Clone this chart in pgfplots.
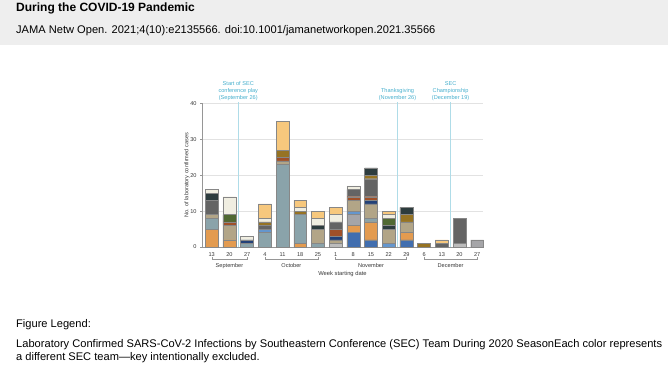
\documentclass[border=0pt]{standalone}
\usepackage{pgfplots}
\pgfplotsset{compat=1.18}
\usepackage{pgfplotstable}
\usepackage{fontspec}
\setmainfont{Liberation Sans}

\definecolor{cBlue}{RGB}{65,110,175}
\definecolor{cLightGrey}{RGB}{188,188,188}
\definecolor{cOrange}{RGB}{227,155,80}
\definecolor{cMedGrey}{RGB}{165,165,168}
\definecolor{cBlueGrey}{RGB}{138,163,170}
\definecolor{cLightBlue}{RGB}{100,150,205}
\definecolor{cTan}{RGB}{178,165,135}
\definecolor{cNavy}{RGB}{35,65,120}
\definecolor{cRust}{RGB}{160,80,40}
\definecolor{cDarkGrey}{RGB}{100,100,100}
\definecolor{cOlive}{RGB}{150,115,35}
\definecolor{cDarkSlate}{RGB}{45,60,62}
\definecolor{cGreen}{RGB}{80,105,50}
\definecolor{cCream}{RGB}{240,238,225}
\definecolor{cLightOrange}{RGB}{247,200,125}
\definecolor{headgrey}{RGB}{238,238,238}
\definecolor{axisgrey}{RGB}{150,150,150}
\definecolor{gridgrey}{RGB}{226,226,226}
\definecolor{textgrey}{RGB}{55,55,55}
\definecolor{outline}{RGB}{135,135,135}
\definecolor{eventline}{RGB}{175,220,232}
\definecolor{eventtext}{RGB}{70,175,205}

\pgfplotstableread{
x  bl lg or mg bg lb tn nv ru dg ol ds gr cr lo
0  0  0  5  0  3  0  1  0  0  4  0  2  0  1  0
1  0  0  2  0  0  0  4  0  1  0  0  0  2  5  0
2  0  0  0  0  1  0  0  1  0  0  0  0  0  1  0
3  0  0  0  0  4  1  0  0  0  1  1  0  0  1  4
4  0  0  0  0  23 0  1  0  1  0  2  0  0  0  8
5  0  0  1  0  8  0  0  0  0  0  1  0  0  1  2
6  0  0  0  0  1  0  4  0  0  0  0  1  0  2  2
7  0  1  0  0  0  0  1  1  2  2  0  0  0  2  2
8  4  0  2  3  0  1  3  0  1  2  0  0  0  1  0
9  2  0  5  0  1  0  4  1  1  5  1  2  0  0  0
10 0  0  0  0  0  1  4  0  0  0  0  1  2  1  1
11 2  0  2  0  0  0  3  0  0  0  2  2  0  0  0
12 0  0  0  0  0  0  0  0  0  0  1  0  0  0  0
13 0  0  0  0  0  0  0  0  0  1  0  0  0  0  1
14 0  1  0  0  0  0  0  0  0  7  0  0  0  0  0
15 0  0  0  2  0  0  0  0  0  0  0  0  0  0  0
}\teamdata

\begin{document}
\begin{tikzpicture}
\useasboundingbox (0,0) rectangle (668bp,-376bp);
\fill[headgrey] (0,0) rectangle (668bp,-45bp);
\node[anchor=base west, inner sep=0, font=\fontsize{12bp}{14bp}\selectfont\bfseries] at (16bp,-11bp) {During the COVID-19 Pandemic};
\node[anchor=base west, inner sep=0, font=\fontsize{11.1bp}{13bp}\selectfont] at (16bp,-33bp) {JAMA Netw Open. 2021;4(10):e2135566. doi:10.1001/jamanetworkopen.2021.35566};
\node[anchor=base west, inner sep=0, font=\fontsize{11.1bp}{13bp}\selectfont] at (16bp,-327bp) {Figure Legend:};
\node[anchor=base west, inner sep=0, font=\fontsize{11.1bp}{13bp}\selectfont] at (16bp,-347bp) {Laboratory Confirmed SARS-CoV-2 Infections by Southeastern Conference (SEC) Team During 2020 SeasonEach color represents};
\node[anchor=base west, inner sep=0, font=\fontsize{11.1bp}{13bp}\selectfont] at (16bp,-360bp) {a different SEC team—key intentionally excluded.};

\begin{axis}[
  at={(202bp,-247bp)}, anchor=south west,
  scale only axis, width=281bp, height=143.7bp,
  xmin=-0.55, xmax=15.33, ymin=0, ymax=40,
  ybar stacked, bar width=0.73,
  axis x line*=bottom, axis y line*=left,
  axis line style={draw=axisgrey, line width=0.4bp},
  xtick={0,...,15},
  xticklabels={13,20,27,4,11,18,25,1,8,15,22,29,6,13,20,27},
  x tick style={draw=none},
  ytick={0,10,20,30,40},
  y tick style={draw=axisgrey, line width=0.4bp},
  major tick length=2bp, tick align=outside,
  ymajorgrids, grid style={draw=gridgrey, line width=0.4bp},
  tick label style={font=\fontsize{5.6bp}{6.5bp}\selectfont, text=textgrey},
  /pgf/number format/assume math mode=true,
  clip=false,
  every axis plot/.append style={draw=outline, line width=0.35bp},
]
\addplot[fill=cBlue] table[x=x,y=bl]{\teamdata};
\addplot[fill=cLightGrey] table[x=x,y=lg]{\teamdata};
\addplot[fill=cOrange] table[x=x,y=or]{\teamdata};
\addplot[fill=cMedGrey] table[x=x,y=mg]{\teamdata};
\addplot[fill=cBlueGrey] table[x=x,y=bg]{\teamdata};
\addplot[fill=cLightBlue] table[x=x,y=lb]{\teamdata};
\addplot[fill=cTan] table[x=x,y=tn]{\teamdata};
\addplot[fill=cNavy] table[x=x,y=nv]{\teamdata};
\addplot[fill=cRust] table[x=x,y=ru]{\teamdata};
\addplot[fill=cDarkGrey] table[x=x,y=dg]{\teamdata};
\addplot[fill=cOlive] table[x=x,y=ol]{\teamdata};
\addplot[fill=cDarkSlate] table[x=x,y=ds]{\teamdata};
\addplot[fill=cGreen] table[x=x,y=gr]{\teamdata};
\addplot[fill=cCream] table[x=x,y=cr]{\teamdata};
\addplot[fill=cLightOrange] table[x=x,y=lo]{\teamdata};

% event lines
\draw[eventline, line width=0.45bp] (axis cs:1.5,0) -- (axis cs:1.5,40.4);
\draw[eventline, line width=0.45bp] (axis cs:10.5,0) -- (axis cs:10.5,40.4);
\draw[eventline, line width=0.45bp] (axis cs:13.5,0) -- (axis cs:13.5,40.4);
\node[anchor=south, inner sep=0, yshift=2.6bp, align=center, text=eventtext, font=\fontsize{5.6bp}{6.9bp}\selectfont] at (axis cs:1.5,40) {Start of SEC\\conference play\\(September 26)};
\node[anchor=south, inner sep=0, yshift=2.6bp, align=center, text=eventtext, font=\fontsize{5.6bp}{6.9bp}\selectfont] at (axis cs:10.5,40) {Thanksgiving\\(November 26)};
\node[anchor=south, inner sep=0, yshift=2.6bp, align=center, text=eventtext, font=\fontsize{5.6bp}{6.9bp}\selectfont] at (axis cs:13.5,40) {SEC\\Championship\\(December 19)};

% month brackets
\draw[axisgrey, line width=0.4bp] ([yshift=-10.3bp]axis cs:0,0) -- ([yshift=-12.3bp]axis cs:0,0) -- ([yshift=-12.3bp]axis cs:2,0) -- ([yshift=-10.3bp]axis cs:2,0);
\draw[axisgrey, line width=0.4bp] ([yshift=-10.3bp]axis cs:3,0) -- ([yshift=-12.3bp]axis cs:3,0) -- ([yshift=-12.3bp]axis cs:6,0) -- ([yshift=-10.3bp]axis cs:6,0);
\draw[axisgrey, line width=0.4bp] ([yshift=-10.3bp]axis cs:7,0) -- ([yshift=-12.3bp]axis cs:7,0) -- ([yshift=-12.3bp]axis cs:11,0) -- ([yshift=-10.3bp]axis cs:11,0);
\draw[axisgrey, line width=0.4bp] ([yshift=-10.3bp]axis cs:12,0) -- ([yshift=-12.3bp]axis cs:12,0) -- ([yshift=-12.3bp]axis cs:15,0) -- ([yshift=-10.3bp]axis cs:15,0);
\node[inner sep=0, text=textgrey, font=\fontsize{5.6bp}{6.5bp}\selectfont, yshift=-18.7bp] at (axis cs:1,0) {September};
\node[inner sep=0, text=textgrey, font=\fontsize{5.6bp}{6.5bp}\selectfont, yshift=-18.7bp] at (axis cs:4.5,0) {October};
\node[inner sep=0, text=textgrey, font=\fontsize{5.6bp}{6.5bp}\selectfont, yshift=-18.7bp] at (axis cs:9,0) {November};
\node[inner sep=0, text=textgrey, font=\fontsize{5.6bp}{6.5bp}\selectfont, yshift=-18.7bp] at (axis cs:13.5,0) {December};
\node[inner sep=0, text=textgrey, font=\fontsize{5.8bp}{6.5bp}\selectfont, yshift=-26.7bp] at (axis cs:7.39,0) {Week starting date};
\node[inner sep=0, rotate=90, text=textgrey, font=\fontsize{5.6bp}{6.5bp}\selectfont] at ([xshift=-15bp]axis description cs:0,0.5) {No. of laboratory confirmed cases};
\end{axis}
\end{tikzpicture}
\end{document}
